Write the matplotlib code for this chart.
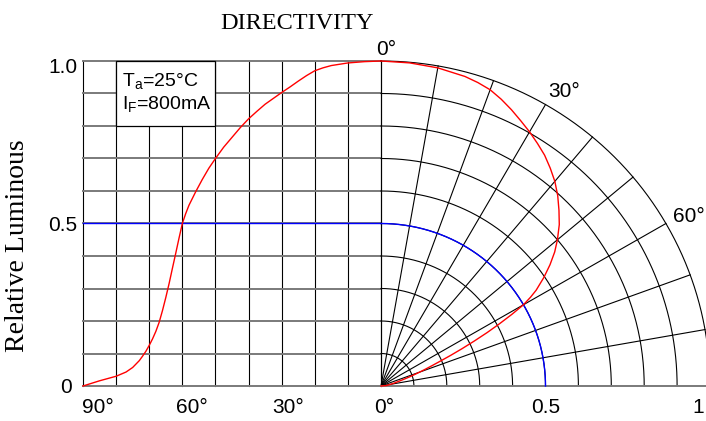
import numpy as np
import matplotlib
matplotlib.use("Agg")
import matplotlib.pyplot as plt
from matplotlib.patches import Rectangle

plt.rcParams["font.family"] = ["Liberation Sans", "DejaVu Sans"]
plt.rcParams["mathtext.default"] = "regular"

W, H = 706, 421

# radiation pattern: off-axis angle (deg) -> relative luminous
angle_deg = [90, 85, 80, 77, 75, 73, 72, 71, 70, 69, 68, 67, 66, 65, 64, 63, 62,
             61, 60, 59, 58, 56, 54, 52, 50, 47.5, 45, 42.5, 40, 37.5, 35, 32.5,
             30, 27.5, 25, 22.5, 20, 17.5, 15, 10, 5, 0]
rel_lum = [0.0, 0.016, 0.03, 0.043, 0.057, 0.078, 0.092, 0.107, 0.125, 0.145,
           0.168, 0.196, 0.232, 0.272, 0.315, 0.362, 0.408, 0.455, 0.5, 0.53,
           0.556, 0.597, 0.635, 0.67, 0.70, 0.735, 0.765, 0.795, 0.822, 0.845,
           0.867, 0.885, 0.903, 0.92, 0.938, 0.955, 0.97, 0.979, 0.986, 0.994,
           0.998, 1.0]

half_level = 0.5
grid_levels = [0.0, 0.1, 0.2, 0.3, 0.4, 0.5, 0.6, 0.7, 0.8, 0.9, 1.0]
grid_angles = [0, 10, 20, 30, 40, 50, 60, 70, 80, 90]

y_ticks = [1.0, 0.5, 0.0]
y_tick_labels = ["1.0", "0.5", "0"]
x_ticks = [90, 60, 30, 0]
x_tick_labels = ["90°", "60°", "30°", "0°"]
r_ticks = [0.5, 1.0]
r_tick_labels = ["0.5", "1"]
theta_ticks = [0, 30, 60]
theta_tick_labels = ["0°", "30°", "60°"]

GRAY = "#7a7a7a"
FS = 15


def px(x0, y0, w, h):
    """pixel box (top-left origin) -> figure fraction rect"""
    return [x0 / W, 1 - (y0 + h) / H, w / W, h / H]


fig = plt.figure(figsize=(W / 100, H / 100), dpi=100)

# left: rectangular grid, angle vs relative luminous
ax = fig.add_axes(px(83, 61, 298, 325))
ax.set_xlim(90, 0)
ax.set_ylim(0, 1)
ax.axis("off")
for a in grid_angles:
    ax.axvline(a, color="black", lw=0.8, zorder=1, clip_on=False)
for lv in grid_levels:
    ax.axhline(lv, color=GRAY, lw=1.4, zorder=1, clip_on=False)

ax.plot([90, 0], [half_level, half_level], color="#0000ff", lw=1.0, zorder=2, clip_on=False)
ax.plot(angle_deg, rel_lum, color="#ff0000", lw=1.0, zorder=2, clip_on=False)

ax.add_patch(Rectangle((80, 0.8), -30, 0.2, facecolor="white", edgecolor="black",
                       lw=0.9, zorder=3, clip_on=False))
ax.text(78.3, 0.923, "T$_{a}$=25°C", fontsize=14, ha="left", va="baseline", zorder=4)
ax.text(78.3, 0.851, "I$_{F}$=800mA", fontsize=14, ha="left", va="baseline", zorder=4)

y_offsets = [(-6, -12), (-6, -8), (-11, -7)]
for v, lab, off in zip(y_ticks, y_tick_labels, y_offsets):
    ax.annotate(lab, (90, v), xytext=off, textcoords="offset pixels",
                ha="right", va="baseline", fontsize=FS, annotation_clip=False)
x_offsets = [14.5, 10, 6.5, 3]
for a, lab, dx in zip(x_ticks, x_tick_labels, x_offsets):
    ax.annotate(lab, (a, 0), xytext=(dx, -27), textcoords="offset pixels",
                ha="center", va="baseline", fontsize=FS, annotation_clip=False)

# right: quarter polar plot of the same pattern
pax = fig.add_axes(px(381, 61, 329, 325), projection="polar")
pax.set_theta_zero_location("N")
pax.set_theta_direction(-1)
pax.set_thetamin(0)
pax.set_thetamax(90)
pax.set_ylim(0, 1)
pax.set_aspect("auto")
pax.axis("off")

arc = np.linspace(0, np.pi / 2, 300)
for lv in grid_levels[1:]:
    pax.plot(arc, np.full_like(arc, lv), color="black", lw=0.8, zorder=1, clip_on=False)
for a in grid_angles:
    col = GRAY if a == 90 else "black"
    lw = 1.4 if a == 90 else 0.8
    pax.plot([np.radians(a)] * 2, [0, 1], color=col, lw=lw, zorder=1, clip_on=False)

pax.plot(arc, np.full_like(arc, half_level), color="#0000ff", lw=1.0, zorder=2, clip_on=False)
pax.plot(np.radians(angle_deg), rel_lum, color="#ff0000", lw=1.0, zorder=2, clip_on=False)

r_offsets = [(0.5, -27), (-12, -27)]
for r, lab, off in zip(r_ticks, r_tick_labels, r_offsets):
    pax.annotate(lab, (np.pi / 2, r), xytext=off, textcoords="offset pixels",
                 ha="center", va="baseline", fontsize=FS, annotation_clip=False)
th_offsets = [((5, 11), "center"), ((19, 13.5), "center"), ((7, 7), "left")]
for a, lab, (off, ha) in zip(theta_ticks, theta_tick_labels, th_offsets):
    pax.annotate(lab, (np.radians(a), 1.0), xytext=off, textcoords="offset pixels",
                 ha=ha, va="center", fontsize=FS, annotation_clip=False)

fig.text(297 / W, 1 - 29 / H, "DIRECTIVITY", ha="center", va="baseline",
         family="Liberation Serif", fontsize=17.5)
fig.text(18 / W, 1 - 245.5 / H, "Relative Luminous", rotation=90, ha="center",
         va="center", family="Liberation Serif", fontsize=20)

fig.savefig("out.png", dpi=100)
